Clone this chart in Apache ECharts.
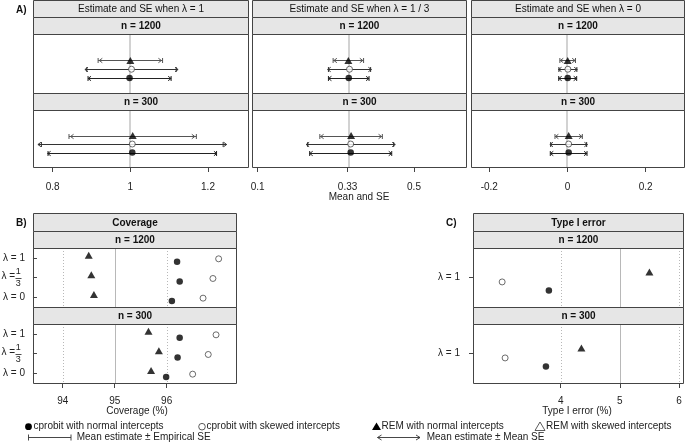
<!DOCTYPE html>
<html><head><meta charset="utf-8">
<script src="https://cdn.jsdelivr.net/npm/echarts@6/dist/echarts.min.js"></script>
<style>html,body{margin:0;padding:0;background:#fff}#c{width:685px;height:443px}</style>
</head><body><div id="c"></div>
<script>
const FONT = '"Liberation Sans", Arial, Helvetica, sans-serif';

// ---------- Panel A data ----------
const lambdaTitles = ['Estimate and SE when λ = 1', 'Estimate and SE when λ = 1 / 3', 'Estimate and SE when λ = 0'];
const sampleSizes = ['n = 1200', 'n = 300'];
const trueValues = [1, 1 / 3, 0];
const estTicks = [[0.8, 1, 1.2], [0.1, 0.33, 0.5], [-0.2, 0, 0.2]];
const estTickLabels = [['0.8', '1', '1.2'], ['0.1', '0.33', '0.5'], ['-0.2', '0', '0.2']];
// [mean, empirical SE, mean SE], indexed [lambda column][n = 1200, n = 300]
const remNormalEst = [
  [[1.000, 0.083, 0.080], [1.006, 0.164, 0.160]],
  [[0.332, 0.039, 0.037], [0.339, 0.080, 0.078]],
  [[0.0005, 0.020, 0.019], [0.003, 0.035, 0.034]]
];
const cprobitSkewedEst = [
  [[1.003, 0.115, 0.120], [1.005, 0.234, 0.243]],
  [[0.335, 0.054, 0.056], [0.338, 0.110, 0.114]],
  [[0.001, 0.023, 0.024], [0.003, 0.046, 0.048]]
];
const cprobitNormalEst = [
  [[0.998, 0.107, 0.107], [1.005, 0.217, 0.218]],
  [[0.333, 0.052, 0.052], [0.338, 0.105, 0.105]],
  [[0.0005, 0.023, 0.023], [0.003, 0.047, 0.047]]
];

// ---------- Panel B data (coverage, %) ----------
const lambdaLabels = ['λ = 1', 'λ = 1/3', 'λ = 0'];
const coverageTicks = [94, 95, 96];
// indexed [n = 1200, n = 300][lambda]
const coverageRemNormal = [[94.50, 94.55, 94.60], [95.65, 95.85, 95.70]];
const coverageCprobitNormal = [[96.20, 96.25, 96.10], [96.25, 96.21, 95.99]];
const coverageCprobitSkewed = [[97.00, 96.89, 96.70], [96.95, 96.80, 96.50]];

// ---------- Panel C data (type I error, %) ----------
const typeILambda = ['λ = 1'];
const typeITicks = [4, 5, 6];
const typeIRemNormal = [5.50, 4.35];
const typeICprobitNormal = [3.80, 3.75];
const typeICprobitSkewed = [3.01, 3.06];

// ---------- layout (style) ----------
const colX = [[33, 248], [252, 466], [471, 684]];
const colRange = [[0.7493, 1.303], [0.0854, 0.6331], [-0.2468, 0.298]];
const rowA = [[34, 93], [110, 167]];
const rowBC = [[248, 307], [324, 383]];
const bX = [33, 236], bRange = [93.504, 97.334];
const cX = [473, 683], cRange = [2.517, 6.068];
const ROW = { tri: 1, open: 2, fill: 3 };
const gridLineTypes = [[1, 2], 'solid', [1, 2]];
const offB = { tri: -0.135, open: 0.05, fill: 0.2 };
const offC = { tri: -0.095, open: 0.075, fill: 0.22 };

const symTri = { symbol: 'triangle', symbolSize: [8, 7], itemStyle: { color: '#000' } };
const symOpen = { symbol: 'circle', symbolSize: 6, itemStyle: { color: '#fff', borderColor: '#333', borderWidth: 0.9 } };
const symFill = { symbol: 'circle', symbolSize: 6.5, itemStyle: { color: '#000' } };

function barRenderer(row, color) {
  return function (params, api) {
    const m = api.value(0), e = api.value(1), s = api.value(2);
    const y = Math.round(api.coord([m, row])[1]) + 0.5;
    const le = api.coord([m - e, row])[0], re = api.coord([m + e, row])[0];
    const ls = api.coord([m - s, row])[0], rs = api.coord([m + s, row])[0];
    const x0 = Math.min(le, ls), x1 = Math.max(re, rs);
    const st = { stroke: color, lineWidth: 1, fill: null };
    const a = 3, h = 2.2, t = 2.5;
    return { type: 'group', children: [
      { type: 'line', shape: { x1: x0, y1: y, x2: x1, y2: y }, style: st },
      { type: 'line', shape: { x1: le, y1: y - t, x2: le, y2: y + t }, style: st },
      { type: 'line', shape: { x1: re, y1: y - t, x2: re, y2: y + t }, style: st },
      { type: 'polyline', shape: { points: [[ls + a, y - h], [ls, y], [ls + a, y + h]] }, style: st },
      { type: 'polyline', shape: { points: [[rs - a, y - h], [rs, y], [rs - a, y + h]] }, style: st }
    ] };
  };
}
// vertical reference / grid lines drawn through the x scale, spanning the grid height
function vlineRenderer(color, width, dash) {
  return function (params, api) {
    const cs = params.coordSys;
    const x = Math.round(api.coord([api.value(0), 0])[0]) + (width % 2 ? 0.5 : 0);
    return { type: 'line', shape: { x1: x, y1: cs.y, x2: x, y2: cs.y + cs.height },
      style: { stroke: color, lineWidth: width, lineDash: dash === 'solid' ? null : dash } };
  };
}

const grids = [], xAxes = [], yAxes = [], series = [];
const axisLabelBase = { fontSize: 10, color: '#222', fontFamily: FONT };

// Panel A grids
for (let c = 0; c < 3; c++) {
  for (let n = 0; n < 2; n++) {
    const gi = grids.length;
    const bottom = n === 1;
    grids.push({ left: colX[c][0], top: rowA[n][0], width: colX[c][1] - colX[c][0], height: rowA[n][1] - rowA[n][0] });
    xAxes.push({ type: 'value', gridIndex: gi, min: colRange[c][0], max: colRange[c][1], position: 'bottom',
      axisLine: { show: false, onZero: false }, splitLine: { show: false },
      axisTick: { show: bottom, customValues: estTicks[c], length: 5, lineStyle: { color: '#444' } },
      axisLabel: Object.assign({ show: bottom, customValues: estTicks[c], margin: 15,
        formatter: v => { const i = estTicks[c].findIndex(t => Math.abs(t - v) < 1e-9); return i >= 0 ? estTickLabels[c][i] : ''; } }, axisLabelBase) });
    yAxes.push({ type: 'value', gridIndex: gi, min: -2, max: 4.7, inverse: true, show: false, axisLine: { onZero: false } });
    series.push({ type: 'custom', xAxisIndex: gi, yAxisIndex: gi, z: 1, silent: true,
      renderItem: vlineRenderer('#d2d2d2', 2, 'solid'), data: [[trueValues[c], 0]] });
    const methods = [[remNormalEst, ROW.tri, symTri, '#555'], [cprobitSkewedEst, ROW.open, symOpen, '#333'], [cprobitNormalEst, ROW.fill, symFill, '#222']];
    methods.forEach(([arr, row, sym, col]) => {
      series.push({ type: 'custom', xAxisIndex: gi, yAxisIndex: gi, z: 2, silent: true,
        renderItem: barRenderer(row, col), data: [arr[c][n]] });
      series.push(Object.assign({ type: 'scatter', xAxisIndex: gi, yAxisIndex: gi, z: 5, silent: true,
        data: [[arr[c][n][0], row]] }, sym));
    });
  }
}

// Panel B and C grids
function addDotPanel(xr, range, ticks, nCat, labels, offs, rem, cpn, cps, labelMargin) {
  for (let n = 0; n < 2; n++) {
    const gi = grids.length;
    const bottom = n === 1;
    grids.push({ left: xr[0], top: rowBC[n][0], width: xr[1] - xr[0], height: rowBC[n][1] - rowBC[n][0] });
    xAxes.push({ type: 'value', gridIndex: gi, min: range[0], max: range[1], position: 'bottom',
      axisLine: { show: false, onZero: false }, splitLine: { show: false },
      axisTick: { show: bottom, customValues: ticks, length: 5, lineStyle: { color: '#444' } },
      axisLabel: Object.assign({ show: bottom, customValues: ticks, margin: 13, formatter: v => String(v) }, axisLabelBase) });
    const cats = labels.map((_, i) => i);
    yAxes.push({ type: 'value', gridIndex: gi, min: -0.5, max: nCat - 0.5, inverse: true, position: 'left',
      axisLine: { show: false, onZero: false }, splitLine: { show: false },
      axisTick: { show: true, customValues: cats, length: 4, lineStyle: { color: '#444' } },
      axisLabel: Object.assign({ show: true, customValues: cats, margin: labelMargin,
        formatter: v => (labels[v] && labels[v].indexOf('/') < 0) ? labels[v] : '' }, axisLabelBase) });
    ticks.forEach((t, i) => {
      series.push({ type: 'custom', xAxisIndex: gi, yAxisIndex: gi, z: 1, silent: true,
        renderItem: vlineRenderer('#b8b8b8', 1, gridLineTypes[i]), data: [[t, 0]] });
    });
    series.push(Object.assign({ type: 'scatter', xAxisIndex: gi, yAxisIndex: gi, z: 5, silent: true,
      data: rem[n].map((v, i) => [v, i + offs.tri]) }, symTri));
    series.push(Object.assign({ type: 'scatter', xAxisIndex: gi, yAxisIndex: gi, z: 5, silent: true,
      data: cps[n].map((v, i) => [v, i + offs.open]) }, symOpen));
    series.push(Object.assign({ type: 'scatter', xAxisIndex: gi, yAxisIndex: gi, z: 5, silent: true,
      data: cpn[n].map((v, i) => [v, i + offs.fill]) }, symFill));
  }
}
addDotPanel(bX, bRange, coverageTicks, 3, lambdaLabels, offB, coverageRemNormal, coverageCprobitNormal, coverageCprobitSkewed, 12);
addDotPanel(cX, cRange, typeITicks, 1, typeILambda, offC,
  typeIRemNormal.map(v => [v]), typeICprobitNormal.map(v => [v]), typeICprobitSkewed.map(v => [v]), 13);

const chart = echarts.init(document.getElementById('c'));
chart.setOption({ animation: false, backgroundColor: '#fff', textStyle: { fontFamily: FONT },
  grid: grids, xAxis: xAxes, yAxis: yAxes, series: series });

// ---------- graphics: strips, borders, labels, legend ----------
const G = [];
function txt(x, y, text, opt) {
  opt = opt || {};
  G.push({ type: 'text', x: x, y: y, z: 100, silent: true, style: {
    text: text, font: (opt.bold ? 'bold ' : '') + (opt.size || 10) + 'px ' + FONT,
    fill: opt.color || '#111', align: opt.align || 'center', verticalAlign: opt.va || 'middle',
    textAlign: opt.align || 'center', textVerticalAlign: opt.va || 'middle' } });
}
function strip(L, R, T, B, text, bold) {
  G.push({ type: 'rect', z: 90, silent: true, shape: { x: L + 0.5, y: T + 0.5, width: R - L, height: B - T },
    style: { fill: '#e6e6e6', stroke: '#444', lineWidth: 1 } });
  txt((L + R) / 2 + 0.5, (T + B) / 2 + 1, text, { bold: bold });
}
function border(L, R, T, B) {
  G.push({ type: 'rect', z: 95, silent: true, shape: { x: L + 0.5, y: T + 0.5, width: R - L, height: B - T },
    style: { fill: null, stroke: '#444', lineWidth: 1 } });
}
for (let c = 0; c < 3; c++) {
  strip(colX[c][0], colX[c][1], 0, 17, lambdaTitles[c], false);
  strip(colX[c][0], colX[c][1], 17, rowA[0][0], sampleSizes[0], true);
  strip(colX[c][0], colX[c][1], rowA[0][1], rowA[1][0], sampleSizes[1], true);
  border(colX[c][0], colX[c][1], rowA[0][0], rowA[0][1]);
  border(colX[c][0], colX[c][1], rowA[1][0], rowA[1][1]);
}
[[bX, 'Coverage'], [cX, 'Type I error']].forEach(([xr, title]) => {
  strip(xr[0], xr[1], 213, 231, title, true);
  strip(xr[0], xr[1], 231, rowBC[0][0], sampleSizes[0], true);
  strip(xr[0], xr[1], rowBC[0][1], rowBC[1][0], sampleSizes[1], true);
  border(xr[0], xr[1], rowBC[0][0], rowBC[0][1]);
  border(xr[0], xr[1], rowBC[1][0], rowBC[1][1]);
});
txt(16, 10, 'A)', { bold: true, align: 'left' });
txt(16, 223, 'B)', { bold: true, align: 'left' });
txt(446, 223, 'C)', { bold: true, align: 'left' });
txt(359, 197, 'Mean and SE', { color: '#222' });
txt(137, 411, 'Coverage (%)', { color: '#222' });
txt(577, 411, 'Type I error (%)', { color: '#222' });

// stacked fraction labels for λ = 1/3 in panel B
lambdaLabels.forEach((lab, i) => {
  if (lab.indexOf('/') < 0) return;
  const parts = lab.split('=')[1].trim().split('/');
  [6, 7].forEach(ax => {
    const y = Math.round(chart.convertToPixel({ yAxisIndex: ax }, i));
    txt(15, y - 1.5, 'λ =', { align: 'right', color: '#222' });
    txt(18.3, y - 6, parts[0], { size: 9, color: '#222' });
    txt(18.3, y + 6, parts[1], { size: 9, color: '#222' });
    G.push({ type: 'line', z: 100, silent: true, shape: { x1: 15.5, y1: y + 0.5, x2: 21.5, y2: y + 0.5 }, style: { stroke: '#222', lineWidth: 0.8 } });
  });
});

// legend
const ly1 = 426.7, ly2 = 437.5;
G.push({ type: 'circle', z: 100, silent: true, shape: { cx: 28.5, cy: ly1, r: 3.4 }, style: { fill: '#000' } });
txt(33.5, ly1, 'cprobit with normal intercepts', { align: 'left', color: '#222' });
G.push({ type: 'circle', z: 100, silent: true, shape: { cx: 202, cy: ly1, r: 3.3 }, style: { fill: null, stroke: '#333', lineWidth: 0.8 } });
txt(206.5, ly1, 'cprobit with skewed intercepts', { align: 'left', color: '#222' });
G.push({ type: 'polygon', z: 100, silent: true, shape: { points: [[372, 430], [376.5, 422.5], [381, 430]] }, style: { fill: '#000' } });
txt(381.5, ly1, 'REM with normal intercepts', { align: 'left', color: '#222' });
G.push({ type: 'polygon', z: 100, silent: true, shape: { points: [[535, 430.5], [540, 422], [545, 430.5]] }, style: { fill: null, stroke: '#333', lineWidth: 0.8 } });
txt(546, ly1, 'REM with skewed intercepts', { align: 'left', color: '#222' });
const lst = { stroke: '#333', lineWidth: 0.9, fill: null };
G.push({ type: 'line', z: 100, silent: true, shape: { x1: 28.5, y1: ly2, x2: 71, y2: ly2 }, style: lst });
G.push({ type: 'line', z: 100, silent: true, shape: { x1: 28.5, y1: ly2 - 3, x2: 28.5, y2: ly2 + 3 }, style: lst });
G.push({ type: 'line', z: 100, silent: true, shape: { x1: 71, y1: ly2 - 3, x2: 71, y2: ly2 + 3 }, style: lst });
txt(76.7, ly2 - 0.5, 'Mean estimate ± Empirical SE', { align: 'left', color: '#222' });
G.push({ type: 'line', z: 100, silent: true, shape: { x1: 377.5, y1: ly2, x2: 420, y2: ly2 }, style: lst });
G.push({ type: 'polyline', z: 100, silent: true, shape: { points: [[381.5, ly2 - 2.5], [377.5, ly2], [381.5, ly2 + 2.5]] }, style: lst });
G.push({ type: 'polyline', z: 100, silent: true, shape: { points: [[416, ly2 - 2.5], [420, ly2], [416, ly2 + 2.5]] }, style: lst });
txt(426.7, ly2 - 0.5, 'Mean estimate ± Mean SE', { align: 'left', color: '#222' });

chart.setOption({ graphic: { elements: G } });
</script></body></html>
